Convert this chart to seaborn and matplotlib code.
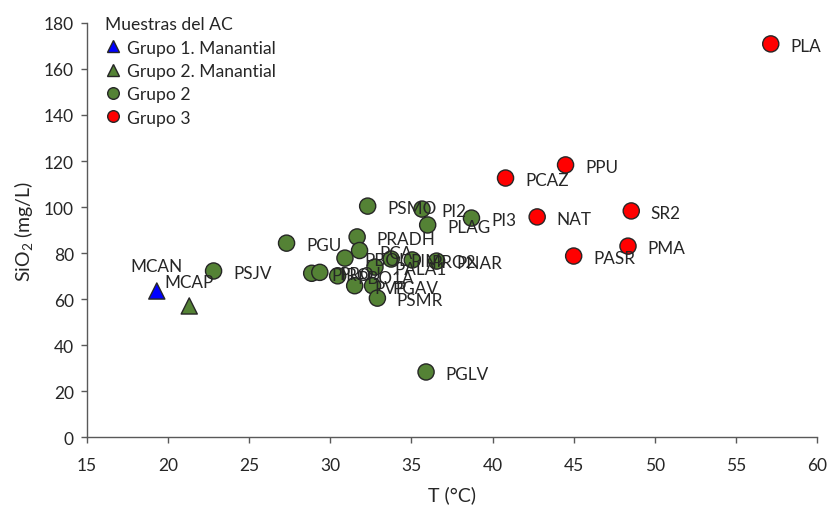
import matplotlib
matplotlib.use("Agg")
import matplotlib.pyplot as plt
import seaborn as sns
import pandas as pd

# Grupo 1 (manantial)
g1m_names = ["MCAN"]
g1m_t = [19.3]
g1m_si = [63.5]

# Grupo 2 (manantial)
g2m_names = ["MCAP"]
g2m_t = [21.3]
g2m_si = [57.0]

# Grupo 2 (pozos)
g2_names = ["PSJV", "PGU", "PSMO", "PI2", "PLAG", "PI3", "PRADH", "PCA",
            "PBOL", "PIM", "PRO2", "PNAR", "PALA1", "PIRO", "PROJ", "PBO1A",
            "PVP", "PGAV", "PSMR", "PGLV"]
g2_t = [22.8, 27.3, 32.3, 35.65, 36.0, 38.7, 31.65, 31.8,
        30.9, 33.75, 35.05, 36.55, 32.75, 28.85, 29.35, 30.45,
        31.5, 32.6, 32.9, 35.9]
g2_si = [72.2, 84.3, 100.4, 99.1, 92.2, 95.2, 87.0, 81.1,
         77.8, 77.4, 77.0, 76.5, 73.9, 71.2, 71.6, 70.1,
         65.8, 65.8, 60.4, 28.3]

# Grupo 3
g3_names = ["PLA", "PPU", "PCAZ", "NAT", "SR2", "PMA", "PASR"]
g3_t = [57.15, 44.5, 40.8, 42.75, 48.55, 48.35, 45.0]
g3_si = [170.9, 118.3, 112.6, 95.7, 98.3, 83.0, 78.7]

groups = ["Grupo 1. Manantial", "Grupo 2. Manantial", "Grupo 2", "Grupo 3"]

df = pd.concat([
    pd.DataFrame({"muestra": g1m_names, "T": g1m_t, "SiO2": g1m_si, "grupo": groups[0]}),
    pd.DataFrame({"muestra": g2m_names, "T": g2m_t, "SiO2": g2m_si, "grupo": groups[1]}),
    pd.DataFrame({"muestra": g2_names, "T": g2_t, "SiO2": g2_si, "grupo": groups[2]}),
    pd.DataFrame({"muestra": g3_names, "T": g3_t, "SiO2": g3_si, "grupo": groups[3]}),
], ignore_index=True)

sns.set_theme(style="white")
plt.rcParams["font.family"] = ["Lato", "DejaVu Sans"]
plt.rcParams["mathtext.fontset"] = "custom"
plt.rcParams["mathtext.rm"] = "Lato"
plt.rcParams["mathtext.it"] = "Lato:italic"

fig = plt.figure(figsize=(8.29, 5.10), dpi=100)
ax = fig.add_axes([0.105, 0.141, 0.8805, 0.812])

palette = {groups[0]: "#0000FF", groups[1]: "#548235",
           groups[2]: "#548235", groups[3]: "#FF0000"}
markers = {groups[0]: "^", groups[1]: "^", groups[2]: "o", groups[3]: "o"}

sns.scatterplot(data=df, x="T", y="SiO2", hue="grupo", style="grupo",
                hue_order=groups, style_order=groups,
                palette=palette, markers=markers, s=135,
                edgecolor="#262626", linewidth=1.0, ax=ax, zorder=3)

# sample labels
above = {"MCAN": (0, 18), "MCAP": (0, 17)}
for name, x, y in zip(df["muestra"], df["T"], df["SiO2"]):
    if name in above:
        ax.annotate(name, (x, y), xytext=above[name], textcoords="offset points",
                    ha="center", va="center", fontsize=12.3, color="#262626", zorder=4)
    else:
        ax.annotate(name, (x, y), xytext=(14, -1.5), textcoords="offset points",
                    ha="left", va="center", fontsize=12.3, color="#262626", zorder=4)

ax.set_xlim(15, 60)
ax.set_ylim(0, 180)
ax.set_xticks(range(15, 61, 5))
ax.set_yticks(range(0, 181, 20))
ax.set_xlabel("T (°C)", fontsize=14, color="#262626", labelpad=9)
ax.set_ylabel("SiO$_2$ (mg/L)", fontsize=14, color="#262626", labelpad=6)

for side in ["top", "right"]:
    ax.spines[side].set_visible(False)
for side in ["left", "bottom"]:
    ax.spines[side].set_color("#595959")
    ax.spines[side].set_linewidth(1.0)
ax.tick_params(axis="both", which="major", direction="out", length=4.5,
               width=1.0, color="#595959", labelsize=12.5, labelcolor="#262626",
               bottom=True, left=True, pad=5)
ax.tick_params(axis="x", pad=10)

leg = ax.legend(title="Muestras del AC", loc="upper left",
                bbox_to_anchor=(0.008, 1.046), frameon=False, fontsize=12.6,
                title_fontsize=12.6, alignment="left", handlelength=0.9,
                handletextpad=0.35, labelspacing=0.42, borderaxespad=0.3,
                markerscale=0.72)
for t in leg.get_texts():
    t.set_color("#262626")
leg.get_title().set_color("#262626")

fig.savefig("out.png", dpi=100)
